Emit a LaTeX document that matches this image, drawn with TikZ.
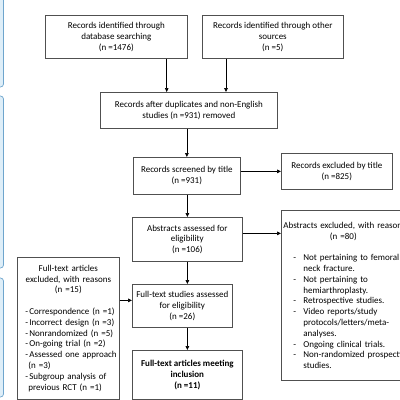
\documentclass[tikz,border=0pt]{standalone}
\usepackage{fontspec}
\setmainfont{Carlito}
\usetikzlibrary{arrows.meta,calc}
\newcommand\fsz{\fontsize{9}{10.8}\selectfont}
\newcommand\nl{\unskip\break}
\newcommand\gitm[1]{\par\hangindent=10pt\hangafter=1\noindent\makebox[10pt][l]{-}#1}
\newcommand\jitm[1]{\par\hangindent=3pt\hangafter=1\noindent\makebox[4pt][l]{-}#1}
\definecolor{boxgray}{RGB}{80,80,80}
\definecolor{sideblue}{RGB}{110,165,205}
\definecolor{sidefill}{RGB}{222,238,248}
\begin{document}
\begin{tikzpicture}[x=1pt,y=-1pt,
  box/.style={draw=boxgray, line width=0.7pt, fill=white, inner sep=2pt, align=center, anchor=north west, font=\fsz},
  arr/.style={draw=black, line width=0.7pt, -{Triangle[length=4pt,width=3.6pt]}},
  sidebox/.style={draw=sideblue, fill=sidefill, line width=0.7pt, rounded corners=3pt}]
\useasboundingbox (0,0) rectangle (400,400);
\clip (0,0) rectangle (400,400);
% side bars
\draw[sidebox] (-10,-5) rectangle (3.5,87);
\draw[sidebox] (-10,96) rectangle (3.5,268);
\draw[sidebox] (-10,278) rectangle (3.5,397);
% boxes
\node[box, minimum width=142, minimum height=43] (A) at (45,15) {Records identified through\\database searching\\(n =1476)};
\node[box, minimum width=141, minimum height=43] (B) at (202,15) {Records identified through other\\sources\\(n =5)};
\node[box, minimum width=177, minimum height=36] (C) at (100,92) {Records after duplicates and non-English\\studies (n =931) removed};
\node[box, minimum width=107, minimum height=37] (D) at (133,157) {Records screened by title\\(n =931)};
\node[box, minimum width=111, minimum height=36] (E) at (281,153) {Records excluded by title\\(n =825)};
\node[box, minimum width=110, minimum height=44] (F) at (132,217) {Abstracts assessed for\\eligibility\\(n =106)};
\node[box, minimum width=124, minimum height=170, text width=120pt, align=left] (G) at (281,210) {%
{\centering \mbox{Abstracts excluded, with reasons}\\(n =80)\par}\vspace{10.8pt}\leftskip=10pt
\gitm{Not pertaining to femoral\nl neck fracture.}
\gitm{Not pertaining to\nl hemiarthroplasty.}
\gitm{Retrospective studies.}
\gitm{Video reports/study\nl protocols/letters/meta-\nl analyses.}
\gitm{Ongoing clinical trials.}
\gitm{\mbox{Non-randomized prospective}\nl studies.}\par};
\node[box, minimum width=100, minimum height=43] (H) at (132,284) {Full-text studies assessed\\for eligibility\\(n =26)};
\node[box, minimum width=110, minimum height=49, font=\fsz\bfseries] (I) at (132,350) {Full-text articles meeting\\inclusion\\(n =11)};
\node[box, minimum width=102, minimum height=142, text width=98pt, align=left] (J) at (17,257) {%
{\centering Full-text articles\\excluded, with reasons\\(n =15)\par}\vspace{10.8pt}\leftskip=6pt
\jitm{Correspondence (n =1)}
\jitm{Incorrect design (n =3)}
\jitm{Nonrandomized (n =5)}
\jitm{On-going trial (n =2)}
\jitm{Assessed one approach\nl (n =3)}
\jitm{Subgroup analysis of\nl previous RCT (n =1)}\par};
% connectors
\draw[arr] ([xshift=-21pt]A.south east) -- ([xshift=-21pt]A.south east |- C.north);
\draw[arr] ([xshift=24pt]B.south west) -- ([xshift=24pt]B.south west |- C.north);
\draw[arr] (D.north |- C.south) -- (D.north);
\draw[arr] (E.west -| D.east) -- (E.west);
\draw[arr] (F.north |- D.south) -- (F.north);
\draw[arr] ([yshift=6pt]F.east) -- ([yshift=6pt]F.east -| G.west);
\draw[arr] (F.south) -- (F.south |- H.north);
\draw[arr] ([yshift=5.5pt]H.west -| J.east) -- ([yshift=5.5pt]H.west);
\draw[arr] (I.north |- H.south) -- (I.north);
\end{tikzpicture}
\end{document}
